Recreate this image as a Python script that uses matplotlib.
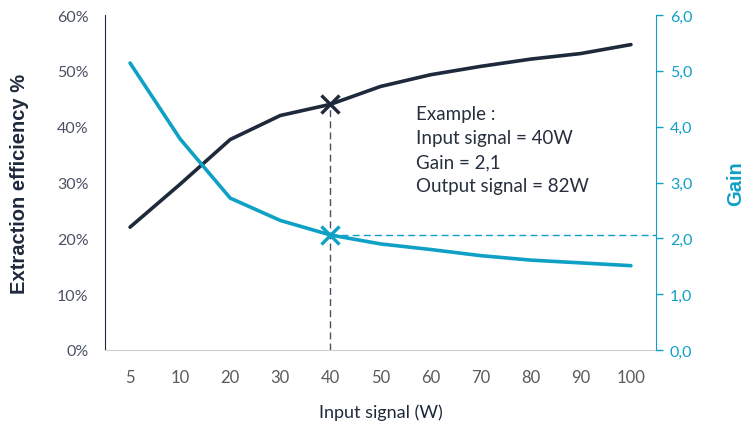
import numpy as np
import matplotlib.pyplot as plt

# input signal categories (W)
inputs = ['5', '10', '20', '30', '40', '50', '60', '70', '80', '90', '100']
# extraction efficiency (%)
efficiency = [22.0, 29.7, 37.7, 42.0, 44.0, 47.2, 49.3, 50.8, 52.1, 53.1, 54.7]
# gain
gain = [5.14, 3.78, 2.72, 2.32, 2.06, 1.90, 1.80, 1.69, 1.61, 1.56, 1.51]

example_idx = 4
navy = '#1e2a3b'
blue = '#0fa0c6'
grey = '#5a5a5a'

fig = plt.figure(figsize=(7.54, 4.27), dpi=100)
ax = fig.add_axes([105/754, 1 - 351/427, (656 - 105)/754, (351 - 16)/427])
ax2 = ax.twinx()

x = np.arange(len(inputs))
ax.plot(x, efficiency, color=navy, linewidth=2.6, solid_capstyle='round', zorder=3)
ax2.plot(x, gain, color=blue, linewidth=2.6, solid_capstyle='round', zorder=3)

# example markers and guides
ax.plot(x[example_idx], efficiency[example_idx], marker='x', color=navy,
        markersize=13, markeredgewidth=2.4, zorder=4)
ax2.plot(x[example_idx], gain[example_idx], marker='x', color=blue,
         markersize=13, markeredgewidth=2.4, zorder=4)
ax.plot([x[example_idx], x[example_idx]], [0, efficiency[example_idx]],
        color='#4a5060', linestyle=(0, (5, 3)), linewidth=1.0, zorder=2)
ax2.plot([x[example_idx], 10.5], [gain[example_idx], gain[example_idx]],
         color=blue, linestyle=(0, (5, 3)), linewidth=1.0, zorder=2)

ax.set_xlim(-0.5, 10.5)
ax.set_ylim(0, 60)
ax2.set_ylim(0, 6)
ax.set_xticks(x)
ax.set_xticklabels(inputs)
ax.set_yticks(np.arange(0, 61, 10))
ax.set_yticklabels([f'{v}%' for v in range(0, 61, 10)])
ax2.set_yticks(np.arange(0, 7, 1))
ax2.set_yticklabels([f'{v},0' for v in range(0, 7)])

for a in (ax, ax2):
    a.spines['top'].set_visible(False)
ax.spines['left'].set_color(navy)
ax.spines['bottom'].set_color('#d0d0d0')
ax.spines['right'].set_visible(False)
ax2.spines['left'].set_visible(False)
ax2.spines['bottom'].set_visible(False)
ax2.spines['right'].set_color(blue)

ax.tick_params(axis='y', length=0, pad=12, labelsize=11.5, labelcolor='#4a5262')
ax.tick_params(axis='x', length=0, pad=14, labelsize=12, labelcolor=grey)
ax2.tick_params(axis='y', length=5, width=1, color=blue, pad=5,
                labelsize=11.5, labelcolor=blue)
for lab in ax.get_xticklabels() + ax.get_yticklabels() + ax2.get_yticklabels():
    lab.set_family('Lato')

ax.set_xlabel('Input signal (W)', fontsize=13, color=navy, family='Lato', labelpad=13)
ax.set_ylabel('Extraction efficiency %', fontsize=14.5, color=navy,
              family='Liberation Sans', fontweight='bold', labelpad=20)
ax2.set_ylabel('Gain', fontsize=14.5, color=blue, family='Liberation Sans',
               fontweight='bold', labelpad=24)

ax.text(5.7, 43.8, 'Example :\nInput signal = 40W\nGain = 2,1\nOutput signal = 82W',
        fontsize=13.5, color='#26303e', family='Lato', va='top', ha='left',
        linespacing=1.5)

fig.savefig('out.png', dpi=100)
